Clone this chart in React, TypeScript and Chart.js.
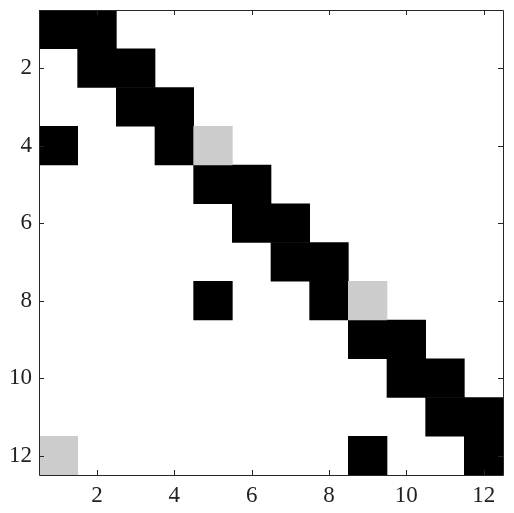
import React, { useEffect, useRef } from "react";
import { Chart, registerables } from "chart.js";

Chart.register(...registerables);

const xTicks = [2, 4, 6, 8, 10, 12];
const yTicks = [2, 4, 6, 8, 10, 12];
const blackRows = [1, 1, 2, 2, 3, 3, 4, 4, 5, 5, 6, 6, 7, 7, 8, 8, 9, 9, 10, 10, 11, 11, 12, 12];
const blackCols = [1, 2, 2, 3, 3, 4, 1, 4, 5, 6, 6, 7, 7, 8, 5, 8, 9, 10, 10, 11, 11, 12, 9, 12];
const grayRows = [4, 8, 12];
const grayCols = [5, 9, 1];

const BLACK = "#000000";
const GRAY = "#cccccc";
const AXIS = "#262626";

export default function App() {
  const ref = useRef<HTMLCanvasElement | null>(null);
  useEffect(() => {
    if (!ref.current) return;
    const cells = [
      ...blackRows.map((r, i) => ({ y: r, x: [blackCols[i] - 0.5, blackCols[i] + 0.5], c: BLACK })),
      ...grayRows.map((r, i) => ({ y: r, x: [grayCols[i] - 0.5, grayCols[i] + 0.5], c: GRAY })),
    ];
    const framePlugin = {
      id: "frame",
      afterDraw(chart: any) {
        const { ctx, chartArea } = chart;
        const { left, top, right, bottom } = chartArea;
        const xs = chart.scales.x;
        const ys = chart.scales.y;
        ctx.save();
        ctx.strokeStyle = AXIS;
        ctx.lineWidth = 1;
        ctx.beginPath();
        ctx.rect(Math.round(left) + 0.5, Math.round(top) + 0.5, Math.round(right - left), Math.round(bottom - top));
        ctx.stroke();
        const tl = 5;
        ctx.beginPath();
        xTicks.forEach((v) => {
          const p = Math.round(xs.getPixelForValue(v)) + 0.5;
          ctx.moveTo(p, bottom);
          ctx.lineTo(p, bottom - tl);
          ctx.moveTo(p, top);
          ctx.lineTo(p, top + tl);
        });
        yTicks.forEach((v) => {
          const p = Math.round(ys.getPixelForValue(v)) + 0.5;
          ctx.moveTo(left, p);
          ctx.lineTo(left + tl, p);
          ctx.moveTo(right, p);
          ctx.lineTo(right - tl, p);
        });
        ctx.stroke();
        ctx.restore();
      },
    };
    const font = { family: "'Liberation Serif', serif", size: 23 };
    const chart = new Chart(ref.current, {
      type: "bar",
      data: {
        datasets: [
          {
            data: cells as any,
            backgroundColor: cells.map((c) => c.c),
            borderWidth: 0,
            barPercentage: 1,
            categoryPercentage: 1,
          },
        ],
      },
      options: {
        indexAxis: "y",
        animation: false,
        responsive: false,
        layout: { padding: { left: 0, top: 10, right: 11, bottom: 0 } },
        plugins: { legend: { display: false }, tooltip: { enabled: false } },
        scales: {
          x: {
            type: "linear",
            min: 0.5,
            max: 12.5,
            offset: false,
            grid: { display: false, drawTicks: false },
            border: { display: false },
            ticks: { font, color: "#222", padding: 7 },
            afterBuildTicks: (s: any) => {
              s.ticks = xTicks.map((v) => ({ value: v }));
            },
            afterFit: (s: any) => {
              s.height = 38;
              s.paddingLeft = 0;
              s.paddingRight = 0;
            },
          },
          y: {
            type: "linear",
            reverse: true,
            min: 0.5,
            max: 12.5,
            offset: false,
            grid: { display: false, drawTicks: false },
            border: { display: false },
            ticks: { font, color: "#222", padding: 7 },
            afterBuildTicks: (s: any) => {
              s.ticks = yTicks.map((v) => ({ value: v }));
            },
            afterFit: (s: any) => {
              s.width = 39;
              s.paddingTop = 0;
              s.paddingBottom = 0;
            },
          },
        },
      },
      plugins: [framePlugin],
    });
    return () => chart.destroy();
  }, []);
  return (
    <div style={{ position: "fixed", left: 0, top: 0, width: 514, height: 513, background: "#fff" }}>
      <canvas ref={ref} width={514} height={513} style={{ display: "block" }} />
    </div>
  );
}
